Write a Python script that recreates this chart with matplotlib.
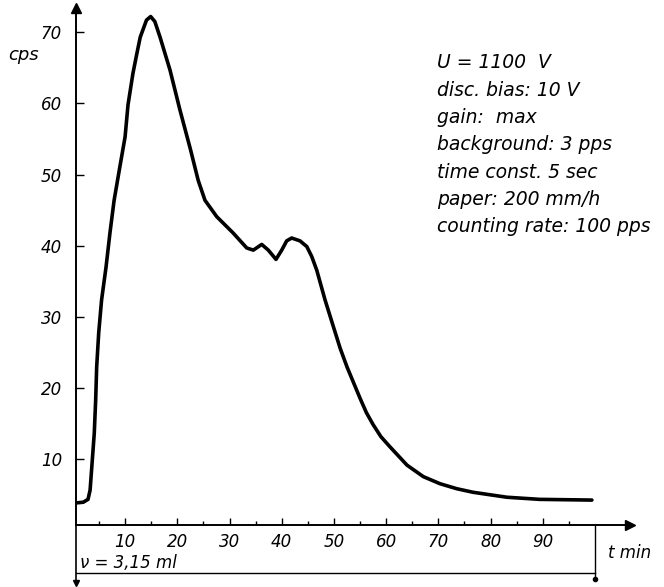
import matplotlib.pyplot as plt

# values
t_min = [0.6, 2.0, 2.9, 3.3, 4.1, 4.37, 4.56, 4.95, 5.5, 6.35, 7.1, 7.9, 9.0, 10.0,
         10.56, 11.5, 12.2, 12.9, 14.1, 14.9, 15.7, 16.7, 18.6, 20.5, 22.5, 24.0,
         25.3, 27.55, 30.7, 33.3, 34.56, 36.17, 37.43, 38.9, 40.0, 40.95, 41.9,
         43.5, 44.8, 45.75, 46.7, 48.3, 50.0, 51.2, 52.5, 55.0, 56.2, 57.5, 59.0,
         60.7, 64.0, 67.1, 70.3, 73.5, 76.6, 83.1, 89.4, 99.4]
cps = [3.9, 4.0, 4.4, 5.7, 13.7, 18.4, 23.0, 27.8, 32.4, 37.0, 41.8, 46.4, 51.1, 55.3,
       59.8, 64.2, 66.8, 69.3, 71.7, 72.2, 71.5, 69.3, 64.7, 59.1, 53.6, 49.2,
       46.4, 44.1, 41.8, 39.7, 39.4, 40.2, 39.4, 38.1, 39.4, 40.7, 41.1,
       40.7, 39.9, 38.5, 36.6, 32.4, 28.4, 25.6, 23.0, 18.6, 16.6, 14.9, 13.2,
       11.8, 9.2, 7.6, 6.6, 5.9, 5.4, 4.7, 4.4, 4.3]

x_major = [10, 20, 30, 40, 50, 60, 70, 80, 90]
x_minor = [5, 15, 25, 35, 45, 55, 65, 75, 85, 95]
y_major = [10, 20, 30, 40, 50, 60, 70]
t_end = 100  # end of the elution volume bracket

params = ["U = 1100  V", "disc. bias: 10 V", "gain:  max", "background: 3 pps",
          "time const. 5 sec", "paper: 200 mm/h", "counting rate: 100 pps"]

plt.rcParams['font.family'] = 'DejaVu Sans'
plt.rcParams['font.style'] = 'italic'

fig = plt.figure(figsize=(6.64, 5.87), dpi=100)
ax = fig.add_axes([76/664, 62/587, 554/664, 517/587])
ax.set_xlim(0.6, 106.7)
ax.set_ylim(0.8, 73.4)

ax.plot(t_min, cps, color='black', lw=2.6, solid_joinstyle='round', solid_capstyle='round')

for s in ['top', 'right']:
    ax.spines[s].set_visible(False)
for s in ['left', 'bottom']:
    ax.spines[s].set_linewidth(1.4)

ax.set_xticks(x_major)
ax.set_xticklabels([str(v) for v in x_major])
ax.set_xticks(x_minor, minor=True)
ax.set_yticks(y_major)
ax.set_yticklabels([str(v) for v in y_major])
ax.tick_params(axis='x', which='major', direction='in', length=5, width=1, pad=6, labelsize=12)
ax.tick_params(axis='x', which='minor', direction='in', length=3, width=1)
ax.tick_params(axis='y', direction='in', length=6, width=1, pad=10, labelsize=12)

# axis arrows
ax.plot(1, 0, '>', color='black', ms=7, transform=ax.transAxes, clip_on=False)
ax.plot(0, 1, '^', color='black', ms=7, transform=ax.transAxes, clip_on=False)

# volume bracket under the time axis
ax.plot([0.6, 0.6], [0.8, -7.2], color='black', lw=1.2, clip_on=False)
ax.plot(0.6, -7.4, 'v', color='black', ms=5, clip_on=False)
ax.plot([0.6, t_end], [-5.95, -5.95], color='black', lw=1.0, clip_on=False)
ax.plot([t_end, t_end], [0.8, -6.6], color='black', lw=1.0, clip_on=False)
ax.plot(t_end, -6.8, 'o', color='black', ms=3, clip_on=False)
ax.text(1.4, -4.5, "ν = 3,15 ml", fontsize=12, va='center', ha='left')

fig.text(8/664, 1 - 55/587, "cps", fontsize=13, va='center', ha='left')
fig.text(608/664, 1 - 553/587, "t min", fontsize=12, va='center', ha='left')

for i, line in enumerate(params):
    fig.text(437/664, 1 - (63 + 27.3*i)/587, line, fontsize=13.5, va='center', ha='left')

fig.savefig('out.png', dpi=100)
